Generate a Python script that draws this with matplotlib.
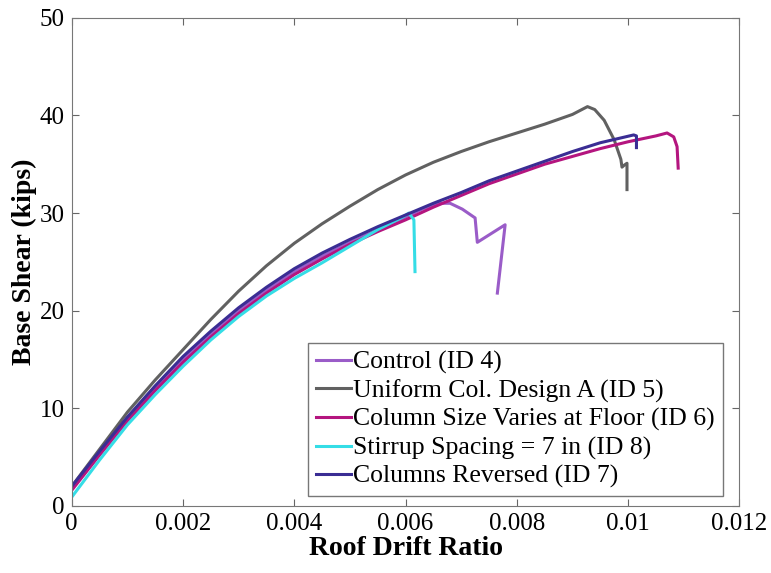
import matplotlib.pyplot as plt

plt.rcParams['font.family'] = ['Liberation Serif', 'DejaVu Serif']

# Control (ID 4)
x_id4 = [0, 0.0005, 0.001, 0.0015, 0.002, 0.0025, 0.003, 0.0035, 0.004, 0.0045,
         0.005, 0.0055, 0.006, 0.0063, 0.0066, 0.0068, 0.00702, 0.00725, 0.00729,
         0.00779, 0.00765]
y_id4 = [1.8, 5.4, 8.9, 12.0, 15.0, 17.6, 20.0, 22.1, 24.0, 25.6,
         27.0, 28.3, 29.6, 30.4, 31.0, 31.0, 30.4, 29.5, 27.0,
         28.8, 21.8]

# Uniform Col. Design A (ID 5)
x_id5 = [0, 0.0005, 0.001, 0.0015, 0.002, 0.0025, 0.003, 0.0035, 0.004, 0.0045,
         0.005, 0.0055, 0.006, 0.0065, 0.007, 0.0075, 0.008, 0.0085, 0.009, 0.00927,
         0.0094, 0.00957, 0.00975, 0.00987, 0.00989, 0.00993, 0.00998, 0.00998]
y_id5 = [2.0, 5.8, 9.6, 12.9, 16.0, 19.1, 22.0, 24.6, 26.9, 28.9,
         30.7, 32.4, 33.9, 35.2, 36.3, 37.3, 38.2, 39.1, 40.1, 40.9,
         40.6, 39.5, 37.5, 35.5, 34.7, 34.9, 35.1, 32.4]

# Column Size Varies at Floor (ID 6)
x_id6 = [0, 0.0005, 0.001, 0.0015, 0.002, 0.0025, 0.003, 0.0035, 0.004, 0.0045,
         0.005, 0.0055, 0.006, 0.0065, 0.007, 0.0075, 0.008, 0.0085, 0.009, 0.0095,
         0.010, 0.0105, 0.0107, 0.01082, 0.01088, 0.0109]
y_id6 = [1.6, 5.2, 8.7, 11.8, 14.7, 17.3, 19.7, 21.8, 23.7, 25.3,
         26.8, 28.1, 29.3, 30.6, 31.8, 33.0, 34.0, 35.0, 35.8, 36.6,
         37.3, 37.9, 38.2, 37.8, 36.8, 34.6]

# Stirrup Spacing = 7 in (ID 8)
x_id8 = [0, 0.0005, 0.001, 0.0015, 0.002, 0.0025, 0.003, 0.0035, 0.004, 0.0045,
         0.005, 0.0055, 0.00595, 0.00606, 0.00615, 0.00617]
y_id8 = [0.9, 4.7, 8.3, 11.4, 14.3, 17.0, 19.4, 21.5, 23.3, 24.9,
         26.6, 28.3, 29.6, 30.0, 29.3, 24.0]

# Columns Reversed (ID 7)
x_id7 = [0, 0.0005, 0.001, 0.0015, 0.002, 0.0025, 0.003, 0.0035, 0.004, 0.0045,
         0.005, 0.0055, 0.006, 0.0065, 0.007, 0.0075, 0.008, 0.0085, 0.009, 0.0095,
         0.0101, 0.01015, 0.01015]
y_id7 = [2.0, 5.6, 9.1, 12.3, 15.3, 17.9, 20.3, 22.4, 24.3, 25.9,
         27.3, 28.6, 29.8, 31.0, 32.1, 33.3, 34.3, 35.3, 36.3, 37.2,
         38.0, 37.9, 36.7]

fig = plt.figure(figsize=(7.71, 5.73), dpi=100)
ax = fig.add_axes([0.093, 0.117, 0.866, 0.852])

ax.plot(x_id4, y_id4, color='#9a5cc8', lw=2.2, label='Control (ID 4)')
ax.plot(x_id5, y_id5, color='#616161', lw=2.2, label='Uniform Col. Design A (ID 5)')
ax.plot(x_id6, y_id6, color='#b4157f', lw=2.2, label='Column Size Varies at Floor (ID 6)')
ax.plot(x_id8, y_id8, color='#35dde6', lw=2.2, label='Stirrup Spacing = 7 in (ID 8)')
ax.plot(x_id7, y_id7, color='#3a2d94', lw=2.2, label='Columns Reversed (ID 7)')

ax.set_xlim(0, 0.012)
ax.set_ylim(0, 50)
ax.set_xticks([0, 0.002, 0.004, 0.006, 0.008, 0.01, 0.012])
ax.set_xticklabels(['0', '0.002', '0.004', '0.006', '0.008', '0.01', '0.012'])
ax.set_yticks([0, 10, 20, 30, 40, 50])
ax.tick_params(direction='in', top=True, right=True, labelsize=18,
               color='#666666', length=5, pad=5)
for s in ax.spines.values():
    s.set_color('#777777')

ax.set_xlabel('Roof Drift Ratio', fontsize=20, fontweight='bold', labelpad=1)
ax.set_ylabel('Base Shear (kips)', fontsize=20, fontweight='bold', labelpad=2)

leg = ax.legend(loc='lower right', bbox_to_anchor=(0.975, 0.02), fontsize=18.5,
                frameon=True, fancybox=False, edgecolor='#555555',
                handlelength=1.35, handletextpad=0.1, labelspacing=0.2,
                borderpad=0.3, borderaxespad=0)
leg.get_frame().set_linewidth(1.0)

plt.savefig('out.png', dpi=100)
